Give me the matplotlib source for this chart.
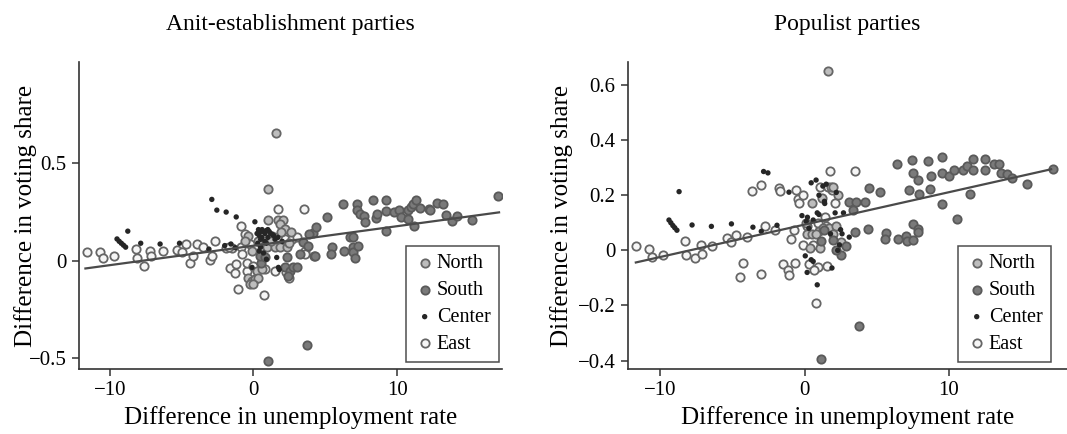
import numpy as np
import matplotlib
matplotlib.use("Agg")
import matplotlib.pyplot as plt

plt.rcParams['font.family'] = ['Liberation Serif', 'DejaVu Serif']
plt.rcParams['axes.unicode_minus'] = True

# ---------------- datos: partidos anti-establishment ----------------
ae_east_x = [-11.6, -10.7, -10.5, -9.7, -8.2, -8.1, -7.6, -7.2, -7.1, -6.3, -5.3, -5.0, -4.7, -4.4,
             -4.2, -3.9, -3.5, -3.0, -2.9, -2.7, -1.9, -1.5, -1.6, -1.3, -1.05, -0.9, -0.6, -0.9,
             -0.8, -0.46, -0.46, 0.0, -0.23, 0.7, 0.8, 1.5, 1.74, 3.5, 1.28, 1.74, 2.2, 2.67, 3.0,
             3.6, 3.6, 2.5, 2.3, -1.7, -1.2, 0.12]
ae_east_y = [0.043, 0.043, 0.012, 0.022, 0.06, 0.015, -0.026, 0.048, 0.022, 0.05, 0.055, 0.047, 0.086,
             -0.012, 0.026, 0.086, 0.072, 0.003, 0.026, 0.103, 0.067, 0.067, -0.035, -0.062, -0.147,
             0.18, 0.138, 0.069, 0.034, -0.05, -0.009, -0.026, 0.086, -0.176, -0.043, -0.052, 0.267,
             0.267, 0.129, 0.12, 0.112, 0.112, 0.12, 0.052, 0.034, -0.09, -0.06, 0.069, -0.014, 0.06]

ae_north_x = [1.55, 1.0, 1.04, 1.74, 2.09, 1.86, 2.2, -0.35, -0.12, 0.58, 0.93, 1.5, 1.86, 2.32, 0.23,
              0.58, -0.35, -0.12, 0.12, 0.35, -0.23, 0.0, 1.2, 2.5, 0.3, 1.9, 2.6, -0.6]
ae_north_y = [0.655, 0.37, 0.21, 0.21, 0.207, 0.19, 0.164, 0.129, 0.052, 0.06, 0.069, 0.069, 0.069,
              0.069, -0.052, -0.043, -0.086, -0.103, -0.095, -0.086, -0.121, -0.121, 0.1, 0.09, 0.1,
              0.15, 0.15, 0.1]

ae_south_x = [1.04, 3.71, 3.48, 3.83, 4.18, 4.2, 2.32, 2.2, 2.55, 2.78, 3.0, 2.44, 0.53, 0.46, 0.81,
              3.9, 4.35, 5.1, 5.45, 5.4, 6.25, 6.3, 6.9, 6.9, 7.2, 7.2, 7.4, 7.7, 7.75, 6.75, 6.95,
              7.3, 7.05, 8.3, 8.55, 8.6, 9.25, 9.25, 9.25, 9.8, 10.1, 10.25, 10.75, 10.75, 11.0, 11.1,
              11.35, 11.2, 11.6, 12.2, 12.3, 12.8, 13.2, 13.4, 13.85, 14.15, 15.2, 17.0, 4.3, 3.25]
ae_south_y = [-0.517, -0.434, 0.095, 0.078, 0.141, 0.026, 0.017, -0.034, -0.052, -0.034, -0.034, -0.078,
              -0.009, 0.026, 0.017, 0.138, 0.172, 0.224, 0.069, 0.034, 0.29, 0.048, 0.072, 0.043, 0.29,
              0.259, 0.24, 0.228, 0.198, 0.124, 0.12, 0.078, 0.012, 0.31, 0.22, 0.24, 0.31, 0.255,
              0.155, 0.25, 0.262, 0.224, 0.262, 0.216, 0.276, 0.29, 0.31, 0.176, 0.272, 0.267, 0.259,
              0.298, 0.293, 0.233, 0.203, 0.228, 0.21, 0.333, 0.026, 0.034]

ae_center_x = [-9.5, -9.35, -9.2, -9.05, -8.9, -8.75, -7.85, -6.5, -5.15, -3.1, -2.9, -2.55, -1.9, -1.2,
               0.1, -2.0, -1.57, -1.27, 0.4, 0.5, 0.6, 0.7, 0.8, 0.9, 1.0, 1.1, 1.2, 1.3, 1.4, 0.5, 0.6,
               0.8, 0.3, 0.5, 0.7, 1.0, 1.5, 1.7, 2.0, 0.9, 0.4, 1.62, 1.74, 1.8, 0.9, -0.1, 0.25, 0.35]
ae_center_y = [0.112, 0.1, 0.09, 0.08, 0.07, 0.152, 0.09, 0.086, 0.09, 0.06, 0.315, 0.26, 0.25, 0.225,
               0.2, 0.078, 0.086, 0.067, 0.13, 0.15, 0.16, 0.15, 0.14, 0.155, 0.16, 0.15, 0.14, 0.135,
               0.13, 0.11, 0.12, 0.1, 0.09, 0.07, 0.04, 0.12, 0.11, 0.12, 0.1, 0.09, 0.05, 0.017, -0.034,
               -0.045, 0.008, -0.034, 0.14, 0.16]

# ---------------- datos: partidos populistas ----------------
pp_east_x = [-11.7, -10.77, -10.56, -9.8, -8.3, -8.2, -7.6, -7.2, -7.1, -6.4, -5.35, -5.07, -4.77, -3.97,
             -4.27, -4.5, -3.05, -3.62, -3.0, -2.77, -2.08, -1.78, -1.73, -1.48, -1.15, -1.1, -0.69,
             -0.92, -0.74, -0.58, -0.46, -0.35, -0.12, 0.76, 1.78, 3.5, 0.3, 0.92, 1.57, 0.65, 0.2, 0.9,
             1.5, 1.1, 1.6, 1.9, 2.1, 1.4, 0.6, -0.1]
pp_east_y = [0.017, 0.005, -0.024, -0.016, 0.034, -0.017, -0.028, 0.02, -0.012, 0.015, 0.044, 0.029,
             0.057, 0.048, -0.046, -0.096, -0.085, 0.216, 0.236, 0.09, 0.075, 0.227, 0.217, -0.05, -0.07,
             -0.09, -0.046, 0.042, 0.075, 0.22, 0.187, 0.172, 0.2, -0.19, 0.287, 0.287, -0.05, -0.06,
             -0.058, -0.073, 0.09, 0.1, 0.09, 0.23, 0.23, 0.22, 0.17, 0.12, 0.02, 0.02]

pp_north_x = [1.6, 1.8, 2.0, 0.2, 0.5, 1.0, 1.3, 1.7, 2.2, 1.2, 2.3, 0.5, 0.8, 0.4, 1.1, 2.5, 2.0, 0.1]
pp_north_y = [0.65, 0.23, 0.23, 0.06, 0.06, 0.07, 0.08, 0.08, 0.09, 0.19, 0.2, 0.17, 0.06, 0.01, 0.01,
              0.03, 0.06, 0.1]

pp_south_x = [3.76, 1.15, 6.41, 7.45, 8.54, 9.5, 7.5, 7.84, 8.77, 9.5, 10.03, 10.38, 10.96, 11.3, 11.65,
              11.65, 12.5, 12.53, 13.15, 13.5, 13.6, 14.07, 14.4, 15.45, 17.2, 7.27, 7.96, 8.72, 9.5,
              11.49, 10.56, 4.5, 5.26, 3.07, 3.58, 4.2, 3.35, 3.5, 4.38, 5.65, 5.58, 6.46, 7.04, 7.08,
              7.5, 7.54, 7.84, 7.9, 2.54, 2.19, 2.88, 1.96, 1.15, 1.38]
pp_south_y = [-0.274, -0.394, 0.314, 0.326, 0.324, 0.34, 0.281, 0.257, 0.269, 0.279, 0.269, 0.291, 0.291,
              0.305, 0.333, 0.293, 0.332, 0.293, 0.314, 0.315, 0.279, 0.278, 0.263, 0.239, 0.296, 0.218,
              0.206, 0.223, 0.167, 0.206, 0.112, 0.227, 0.211, 0.177, 0.176, 0.176, 0.145, 0.067, 0.078,
              0.063, 0.041, 0.041, 0.053, 0.033, 0.039, 0.097, 0.078, 0.067, -0.016, 0.002, 0.015, 0.036,
              0.033, 0.075]

pp_center_x = [-8.7, -9.4, -9.27, -9.13, -9.0, -8.85, -7.8, -6.46, -5.07, -3.58, -2.84, -2.54, -3.0,
               -1.91, -1.08, 0.88, 0.18, 0.05, 0.46, 1.9, 0.8, 0.46, 1.27, 1.38, 2.12, 2.7, 2.42, 2.5,
               3.1, -0.18, 0.12, 0.88, 0.6, 0.3, 1.0, 1.5, 2.2, 0.2, 1.8, 2.3, 0.6, 1.4, 1.0, 2.6]
pp_center_y = [0.213, 0.11, 0.1, 0.09, 0.082, 0.073, 0.092, 0.087, 0.096, 0.084, 0.286, 0.281, 0.069,
               0.091, 0.211, -0.125, -0.08, -0.02, -0.034, -0.064, 0.255, 0.245, 0.233, 0.178, 0.136,
               0.136, 0.02, 0.075, 0.048, 0.126, 0.105, 0.136, 0.11, 0.08, 0.2, 0.24, 0.21, 0.12, 0.06,
               0.0, -0.04, 0.17, 0.13, 0.06]

# rectas de ajuste (intercepto, pendiente) y rango en x
ae_fit = (0.0775, 0.0100)
pp_fit = (0.0934, 0.01174)
fit_range = (-11.7, 17.1)

regiones = ['North', 'South', 'Center', 'East']
estilos = {
    'North': dict(s=36, facecolor='#bdbdbd', edgecolor='#666666', linewidths=1.3),
    'South': dict(s=36, facecolor='#7a7a7a', edgecolor='#5a5a5a', linewidths=1.3),
    'Center': dict(s=15, facecolor='#262626', edgecolor='none', linewidths=0),
    'East': dict(s=36, facecolor='#f6f6f6', edgecolor='#666666', linewidths=1.3),
}


def panel(ax, datos, fit, titulo, ylim, yticks, xlim, leg_x, ylab_x):
    for reg in ['East', 'North', 'South', 'Center']:
        x, y = datos[reg]
        ax.scatter(x, y, zorder=3, **estilos[reg])
    xs = np.array(fit_range)
    ax.plot(xs, fit[0] + fit[1] * xs, color='#4a4a4a', lw=1.6, zorder=4)

    ax.set_xlim(*xlim)
    ax.set_ylim(*ylim)
    ax.set_xticks([-10, 0, 10])
    ax.set_yticks(yticks)
    ax.set_yticklabels(['0' if t == 0 else f'{t:g}'.replace('-', '\u2212') for t in yticks])
    ax.set_xticklabels(['\u221210', '0', '10'])
    for s in ['top', 'right']:
        ax.spines[s].set_visible(False)
    for s in ['left', 'bottom']:
        ax.spines[s].set_color('#333333')
        ax.spines[s].set_linewidth(1.2)
    ax.tick_params(direction='out', length=5, width=1.1, color='#333333', labelsize=15, pad=4)
    ax.set_xlabel('Difference in unemployment rate', fontsize=18, labelpad=4)
    ax.set_ylabel('Difference in voting share', fontsize=18)
    ax.yaxis.set_label_coords(ylab_x, 0.5)
    ax.set_title(titulo, fontsize=17, pad=23)

    handles = [ax.scatter([], [], **estilos[r]) for r in regiones]
    leg = ax.legend(handles, regiones, loc='lower right', bbox_to_anchor=(leg_x, 0.022),
                    fontsize=14.5, frameon=True, fancybox=False, borderpad=0.42,
                    labelspacing=0.38, handletextpad=0.1, handlelength=1.0, borderaxespad=0)
    leg.get_frame().set_edgecolor('#222222')
    leg.get_frame().set_linewidth(1.1)


fig = plt.figure(figsize=(10.67, 4.34), dpi=100)
ax1 = fig.add_axes([0.074, 0.150, 0.3964, 0.707])
ax2 = fig.add_axes([0.5886, 0.150, 0.4114, 0.707])

datos_ae = {'North': (ae_north_x, ae_north_y), 'South': (ae_south_x, ae_south_y),
            'Center': (ae_center_x, ae_center_y), 'East': (ae_east_x, ae_east_y)}
datos_pp = {'North': (pp_north_x, pp_north_y), 'South': (pp_south_x, pp_south_y),
            'Center': (pp_center_x, pp_center_y), 'East': (pp_east_x, pp_east_y)}

panel(ax1, datos_ae, ae_fit, 'Anit-establishment parties', (-0.555, 1.02),
      [-0.5, 0, 0.5], (-12.15, 17.3), 0.993, -0.10)
panel(ax2, datos_pp, pp_fit, 'Populist parties', (-0.43, 0.683),
      [-0.4, -0.2, 0, 0.2, 0.4, 0.6], (-12.24, 18.2), 0.9636, -0.125)

fig.savefig('out.png', dpi=100)
